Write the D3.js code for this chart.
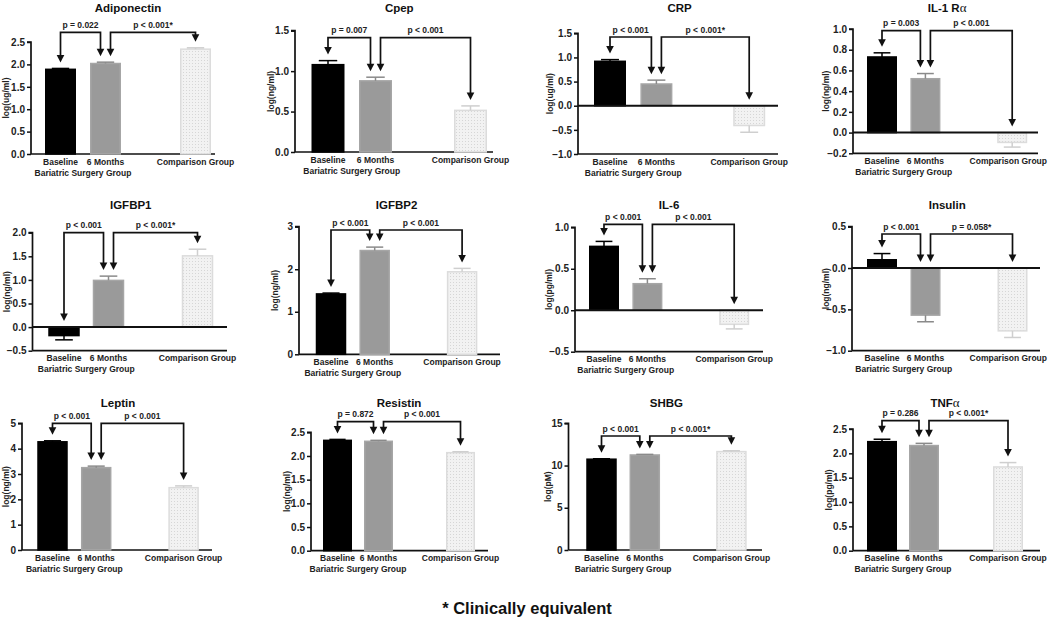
<!DOCTYPE html>
<html><head><meta charset="utf-8">
<script src="https://cdn.jsdelivr.net/npm/d3@7"></script>
<style>body{margin:0;background:#fff}</style>
</head><body><svg id="c" width="1050" height="624"></svg>
<script>
// ---------- DATA ----------
const panelTitles = ["Adiponectin","Cpep","CRP","IL-1 R\u03b1","IGFBP1","IGFBP2","IL-6","Insulin","Leptin","Resistin","SHBG","TNF\u03b1"];
const yLabels = ["log(ug/ml)","log(ng/ml)","log(ug/ml)","log(ng/ml)","log(ng/ml)","log(ng/ml)","log(pg/ml)","log(ng/ml)","log(ng/ml)","log(ng/ml)","log(pM)","log(pg/ml)"];
const groups = ["Baseline","6 Months","","Comparison Group"];
const groupCaption = "Bariatric Surgery Group";
const baselineValues   = [1.89, 1.08, 0.92, 0.73, -0.18, 1.42, 0.77, 0.10, 4.27, 2.33, 10.75, 2.24];
const sixMonthValues   = [2.02, 0.88, 0.45, 0.52, 0.99, 2.44, 0.32, -0.57, 3.25, 2.31, 11.25, 2.16];
const comparisonValues = [2.34, 0.515, -0.41, -0.095, 1.51, 1.94, -0.17, -0.76, 2.46, 2.07, 11.65, 1.72];
const baselineErr   = [0.02, 0.05, 0.035, 0.04, 0.09, 0.02, 0.06, 0.075, 0.04, 0.02, 0.05, 0.05];
const sixMonthErr   = [0.03, 0.045, 0.08, 0.05, 0.09, 0.08, 0.06, 0.08, 0.06, 0.02, 0.07, 0.045];
const comparisonErr = [0.03, 0.055, 0.14, 0.045, 0.14, 0.08, 0.055, 0.08, 0.07, 0.02, 0.1, 0.09];
const pBaselineVs6 = ["p = 0.022","p = 0.007","p < 0.001","p = 0.003","p < 0.001","p < 0.001","p < 0.001","p < 0.001","p < 0.001","p = 0.872","p < 0.001","p = 0.286"];
const p6VsComparison = ["p < 0.001*","p < 0.001","p < 0.001*","p < 0.001","p < 0.001*","p < 0.001","p < 0.001","p = 0.058*","p < 0.001","p < 0.001","p < 0.001*","p < 0.001*"];
const yTickValues = [
  [0,0.5,1,1.5,2,2.5],
  [0,0.5,1,1.5],
  [-1,-0.5,0,0.5,1,1.5],
  [-0.2,0,0.2,0.4,0.6,0.8,1.0],
  [-0.5,0,0.5,1,1.5,2],
  [0,1,2,3],
  [-0.5,0,0.5,1],
  [-1,-0.5,0,0.5],
  [0,1,2,3,4,5],
  [0,0.5,1,1.5,2,2.5],
  [0,5,10,15],
  [0,0.5,1,1.5,2,2.5]
];
const footnote = "* Clinically equivalent";

// ---------- LAYOUT (pixels) ----------
const layout = [
  {ax:31,   top:42,    bot:154,   c0:60.5,  step:45,   bw:31, right:215,  br:32.3,  lab:25},
  {ax:295,  top:30.7,  bot:152,   c0:328,   step:47.5, bw:33, right:493,  br:37.7,  lab:24},
  {ax:578,  top:33.3,  bot:154,   c0:610,   step:46.4, bw:32, right:778,  br:37,    lab:28},
  {ax:853,  top:29,    bot:153.3, c0:882,   step:43.4, bw:30, right:1038, br:30.7,  lab:27},
  {ax:32.5, top:232.7, bot:350.7, c0:64,    step:44.5, bw:31.5, right:227, br:232.7, lab:25},
  {ax:299,  top:226.7, bot:354.3, c0:331,   step:43.7, bw:30.5, right:500, br:230,  lab:24},
  {ax:575,  top:227.3, bot:351.7, c0:604,   step:43.4, bw:30, right:763,  br:224.3, lab:26},
  {ax:852,  top:226.7, bot:350.7, c0:882,   step:43.5, bw:30, right:1040, br:234,   lab:26},
  {ax:22,   top:423.3, bot:550,   c0:52.5,  step:43.7, bw:30.5, right:212, br:423.3, lab:16},
  {ax:311,  top:432.3, bot:550.7, c0:337.5, step:41,   bw:29, right:488,  br:421.7, lab:24},
  {ax:568.5,top:423.3, bot:550,   c0:601.5, step:43.3, bw:30.5, right:762, br:436,  lab:20},
  {ax:853,  top:429,   bot:550.7, c0:882,   step:42,   bw:30, right:1040, br:420.7, lab:24}
];

const FONT = "'Liberation Sans', Arial, sans-serif";
const svg = d3.select("#c");
const defs = svg.append("defs");
const pat = defs.append("pattern").attr("id","dots").attr("width",3).attr("height",3).attr("patternUnits","userSpaceOnUse");
pat.append("rect").attr("width",3).attr("height",3).attr("fill","#f2f2f2");
pat.append("rect").attr("width",1).attr("height",1).attr("fill","#d6d6d6");

const barStyle = [
  {fill:"#000", stroke:"#000", err:"#000"},
  {fill:"#9a9a9a", stroke:"#a6a6a6", err:"#8a8a8a"},
  {fill:"url(#dots)", stroke:"#dcdcdc", err:"#cfcfcf"}
];

panelTitles.forEach((title, i) => {
  const L = layout[i];
  const ticks = yTickValues[i];
  const g = svg.append("g");
  const y = d3.scaleLinear().domain([ticks[0], ticks[ticks.length-1]]).range([L.bot, L.top]);
  const x = d3.scalePoint().domain(groups).range([L.c0, L.c0 + 3*L.step]);
  const vals = [baselineValues[i], sixMonthValues[i], comparisonValues[i]];
  const errs = [baselineErr[i], sixMonthErr[i], comparisonErr[i]];
  const keys = [groups[0], groups[1], groups[3]];
  const intFmt = (ticks[1]-ticks[0]) >= 1;

  // y axis
  const yAxis = d3.axisLeft(y).tickValues(ticks).tickSize(4).tickPadding(2)
    .tickFormat(d => intFmt ? d3.format("d")(d) : d3.format(".1f")(d));
  const ya = g.append("g").attr("transform", `translate(${L.ax},0)`).call(yAxis);
  ya.select(".domain").attr("stroke","#111").attr("stroke-width",1.7).attr("d", `M-4,${L.top}H0V${L.bot}`);
  ya.selectAll(".tick line").attr("stroke","#111").attr("stroke-width",1.5);
  ya.selectAll(".tick text").attr("font-family",FONT).attr("font-weight","bold").attr("font-size","10px").attr("fill","#222");

  // bottom axis
  g.append("line").attr("x1",L.ax).attr("x2",L.right).attr("y1",L.bot).attr("y2",L.bot)
    .attr("stroke","#111").attr("stroke-width",1.7);

  // bars
  vals.forEach((v, k) => {
    const cx = x(keys[k]);
    const y0 = y(0), y1 = y(v);
    const st = barStyle[k];
    g.append("rect").attr("x", cx - L.bw/2 + 0.75).attr("width", L.bw - 1.5)
      .attr("y", Math.min(y0,y1)).attr("height", Math.abs(y1-y0))
      .attr("fill", st.fill).attr("stroke", st.stroke).attr("stroke-width", 1.5);
    const ev = v >= 0 ? v + errs[k] : v - errs[k];
    g.append("line").attr("x1",cx).attr("x2",cx).attr("y1",y1).attr("y2",y(ev))
      .attr("stroke",st.err).attr("stroke-width",1.5);
    g.append("line").attr("x1",cx-L.bw*0.28).attr("x2",cx+L.bw*0.28).attr("y1",y(ev)).attr("y2",y(ev))
      .attr("stroke",st.err).attr("stroke-width",1.5);
  });

  // zero line
  if (ticks[0] < 0) {
    g.append("line").attr("x1",L.ax).attr("x2",L.right).attr("y1",y(0)).attr("y2",y(0))
      .attr("stroke","#111").attr("stroke-width",2);
  }

  // brackets with arrows
  const tip = k => {
    const v = vals[k];
    const top = v >= 0 ? y(v + errs[k]) : y(0);
    return top - 6;
  };
  const off = 5;
  const brackets = [
    {x1: x(keys[0]), t1: tip(0), x2: x(keys[1]) - off, t2: tip(1), label: pBaselineVs6[i]},
    {x1: x(keys[1]) + off, t1: tip(1), x2: x(keys[2]), t2: tip(2), label: p6VsComparison[i]}
  ];
  const ah = 7.5, aw = 3.8;
  brackets.forEach(b => {
    g.append("path").attr("d", `M${b.x1},${b.t1-ah+1}V${L.br}H${b.x2}V${b.t2-ah+1}`)
      .attr("fill","none").attr("stroke","#111").attr("stroke-width",1.7);
    [[b.x1,b.t1],[b.x2,b.t2]].forEach(([ax,ay]) => {
      g.append("path").attr("d", `M${ax-aw},${ay-ah}L${ax+aw},${ay-ah}L${ax},${ay}Z`).attr("fill","#111");
    });
    g.append("text").attr("x",(b.x1+b.x2)/2).attr("y",L.br-4.5).attr("text-anchor","middle")
      .attr("font-family",FONT).attr("font-weight","bold").attr("font-size","8.5px").attr("fill","#222")
      .text(b.label);
  });

  // x labels
  keys.forEach(kk => {
    const t = g.append("text").attr("x",x(kk)).attr("y",L.bot+10.5).attr("text-anchor","middle")
      .attr("font-family",FONT).attr("font-weight","bold").attr("font-size","8.5px").attr("fill","#222").text(kk);
    const w = t.node().getComputedTextLength();
    if (x(kk) + w/2 > 1047) t.attr("x", 1047 - w/2);
  });
  g.append("text").attr("x",(x(keys[0])+x(keys[1]))/2).attr("y",L.bot+21.5).attr("text-anchor","middle")
    .attr("font-family",FONT).attr("font-weight","bold").attr("font-size","8.5px").attr("fill","#222").text(groupCaption);

  // y label
  g.append("text").attr("transform",`translate(${L.ax-L.lab},${(L.top+L.bot)/2}) rotate(-90)`)
    .attr("text-anchor","middle").attr("dy","0.35em")
    .attr("font-family",FONT).attr("font-weight","bold").attr("font-size","8.5px").attr("fill","#222").text(yLabels[i]);

  // title
  const tx = (x(keys[0]) - L.bw/2 + x(keys[2]) + L.bw/2)/2;
  const rowTitleY = [12, 209, 407][Math.floor(i/4)];
  const tt = g.append("text").attr("x",tx).attr("y",rowTitleY).attr("text-anchor","middle")
    .attr("font-family",FONT).attr("font-weight","bold").attr("font-size","11.5px").attr("fill","#111");
  const parts = title.split("\u03b1");
  tt.append("tspan").text(parts[0]);
  if (parts.length > 1) {
    tt.append("tspan").attr("font-family","'Liberation Serif', 'DejaVu Serif', serif").attr("font-weight","normal").attr("font-size","13px").text("\u03b1");
  }
});

svg.append("text").attr("x",527).attr("y",614).attr("text-anchor","middle")
  .attr("font-family",FONT).attr("font-weight","bold").attr("font-size","16.5px").attr("fill","#111").text(footnote);
</script>
</body></html>
